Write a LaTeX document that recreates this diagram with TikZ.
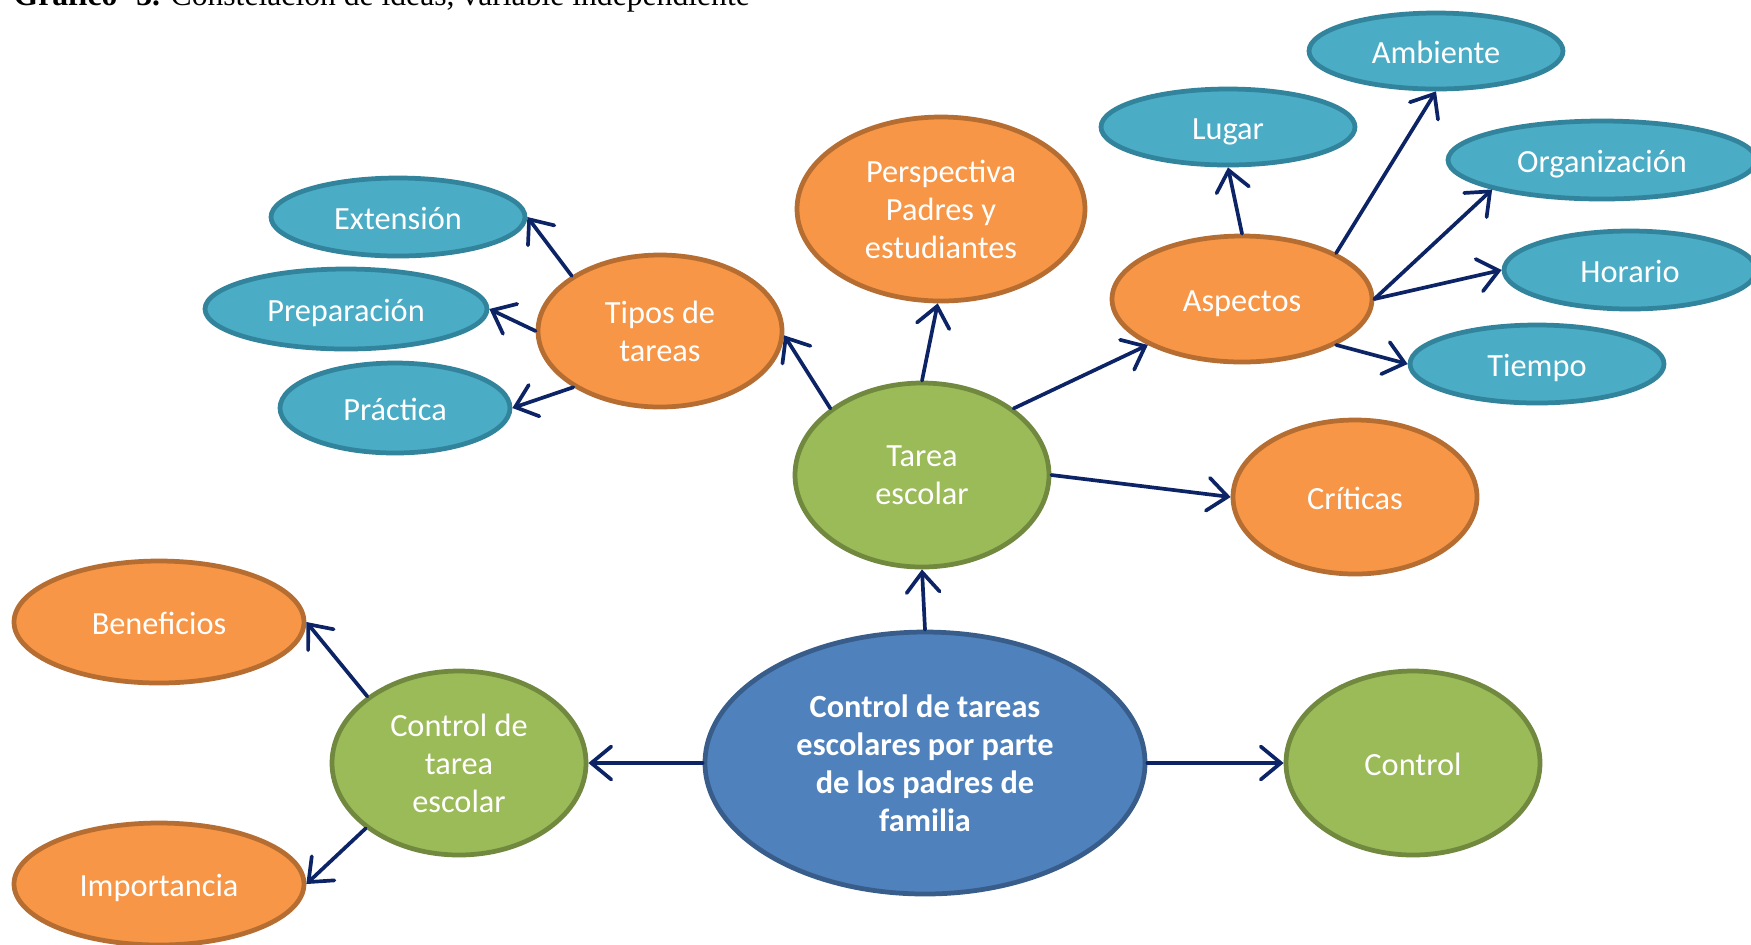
\documentclass[tikz,border=0pt]{standalone}
\usepackage{fontspec}
\setmainfont{Carlito}
\newfontfamily\capfont{Liberation Serif}
\usetikzlibrary{shapes.geometric,arrows.meta}
\definecolor{tealf}{HTML}{4BACC6}
\definecolor{tealb}{HTML}{31849B}
\definecolor{orf}{HTML}{F79646}
\definecolor{orb}{HTML}{B66D31}
\definecolor{grf}{HTML}{9BBB59}
\definecolor{grb}{HTML}{71893F}
\definecolor{blf}{HTML}{4F81BD}
\definecolor{blb}{HTML}{385D8A}
\definecolor{arrc}{HTML}{0C2466}
\tikzset{
  ell/.style n args={2}{ellipse, minimum width=#1*0.01cm, minimum height=#2*0.01cm,
    inner sep=0pt, line width=1.35pt, text=white, align=center,
    font=\fontsize{9.2}{10.8}\selectfont},
  one/.style={text height=6.9pt, text depth=0pt},
  tealn/.style={fill=tealf, draw=tealb},
  orn/.style={fill=orf, draw=orb},
  grn/.style={fill=grf, draw=grb},
  bln/.style={fill=blf, draw=blb},
  arr/.style={draw=arrc, line width=1.05pt, line cap=round, line join=round,
    -{Straight Barb[length=2mm,width=3.3mm,line cap=round]}}
}
\begin{document}
\begin{tikzpicture}[x=0.01cm,y=-0.01cm]
\useasboundingbox (0,0) rectangle (1751,944);
\clip (0,0) rectangle (1751,944);
\fill[white] (0,0) rectangle (1751,944);
% caption (cut at the top, as in the reference)
\node[anchor=base west, inner sep=0pt, font=\capfont\fontsize{9}{11}\selectfont] (cap) at (13,5)
  {\textbf{Gráfico\hspace{0.6em}3.} Constelación de ideas, variable independiente};
% nodes
\node[ell={254}{76}, tealn, one] (amb) at (1436,51) {Ambiente};
\node[ell={254}{76}, tealn, one] (lugar) at (1228,127) {Lugar};
\node[ell={308}{78}, tealn, one] (org) at (1602,160) {Organización};
\node[ell={252}{78}, tealn, one] (hor) at (1630,270) {Horario};
\node[ell={254}{78}, tealn, one] (tiem) at (1537,364) {Tiempo};
\node[ell={260}{126}, orn, one] (asp) at (1242,299) {Aspectos};
\node[ell={288}{184}, orn] (persp) at (941,209) {Perspectiva\\Padres y\\estudiantes};
\node[ell={244}{152}, orn] (tipos) at (660,331) {Tipos de\\tareas};
\node[ell={254}{78}, tealn, one] (ext) at (398,217) {Extensión};
\node[ell={282}{80}, tealn, one] (prep) at (346,309) {Preparación};
\node[ell={230}{90}, tealn, one] (prac) at (395,408) {Práctica};
\node[ell={254}{184}, grn] (tarea) at (922,475) {Tarea\\escolar};
\node[ell={244}{154}, orn, one] (crit) at (1355,497) {Críticas};
\node[ell={290}{122}, orn, one] (benef) at (159,622) {Beneficios};
\node[ell={254}{184}, grn] (ctarea) at (459,763) {Control de\\tarea\\escolar};
\node[ell={290}{122}, orn, one] (impo) at (159,884) {Importancia};
\node[ell={440}{262}, bln, font=\fontsize{9.2}{10.8}\selectfont\bfseries] (main) at (925,763)
  {Control de tareas\\escolares por parte\\de los padres de\\familia};
\node[ell={254}{184}, grn, one] (control) at (1413,763) {Control};
% connectors
\draw[arr] (tarea.144) -- (tipos.-2);
\draw[arr] (tarea.90) -- (persp.268);
\draw[arr] (tarea.36) -- (asp.206);
\draw[arr] (tarea.0) -- (crit.180);
\draw[arr] (main.90) -- (tarea.270);
\draw[arr] (main.180) -- (ctarea.0);
\draw[arr] (main.0) -- (control.180);
\draw[arr] (ctarea.144) -- (benef.0);
\draw[arr] (ctarea.215) -- (impo.0);
\draw[arr] (tipos.148) -- (ext.0);
\draw[arr] (tipos.180) -- (prep.0);
\draw[arr] (tipos.213) -- (prac.0);
\draw[arr] (asp.90) -- (lugar.270);
\draw[arr] (asp.26) -- (amb.270);
\draw[arr] (asp.0) -- (org.195);
\draw[arr] (asp.0) -- (hor.180);
\draw[arr] (asp.334) -- (tiem.180);
\end{tikzpicture}
\end{document}
